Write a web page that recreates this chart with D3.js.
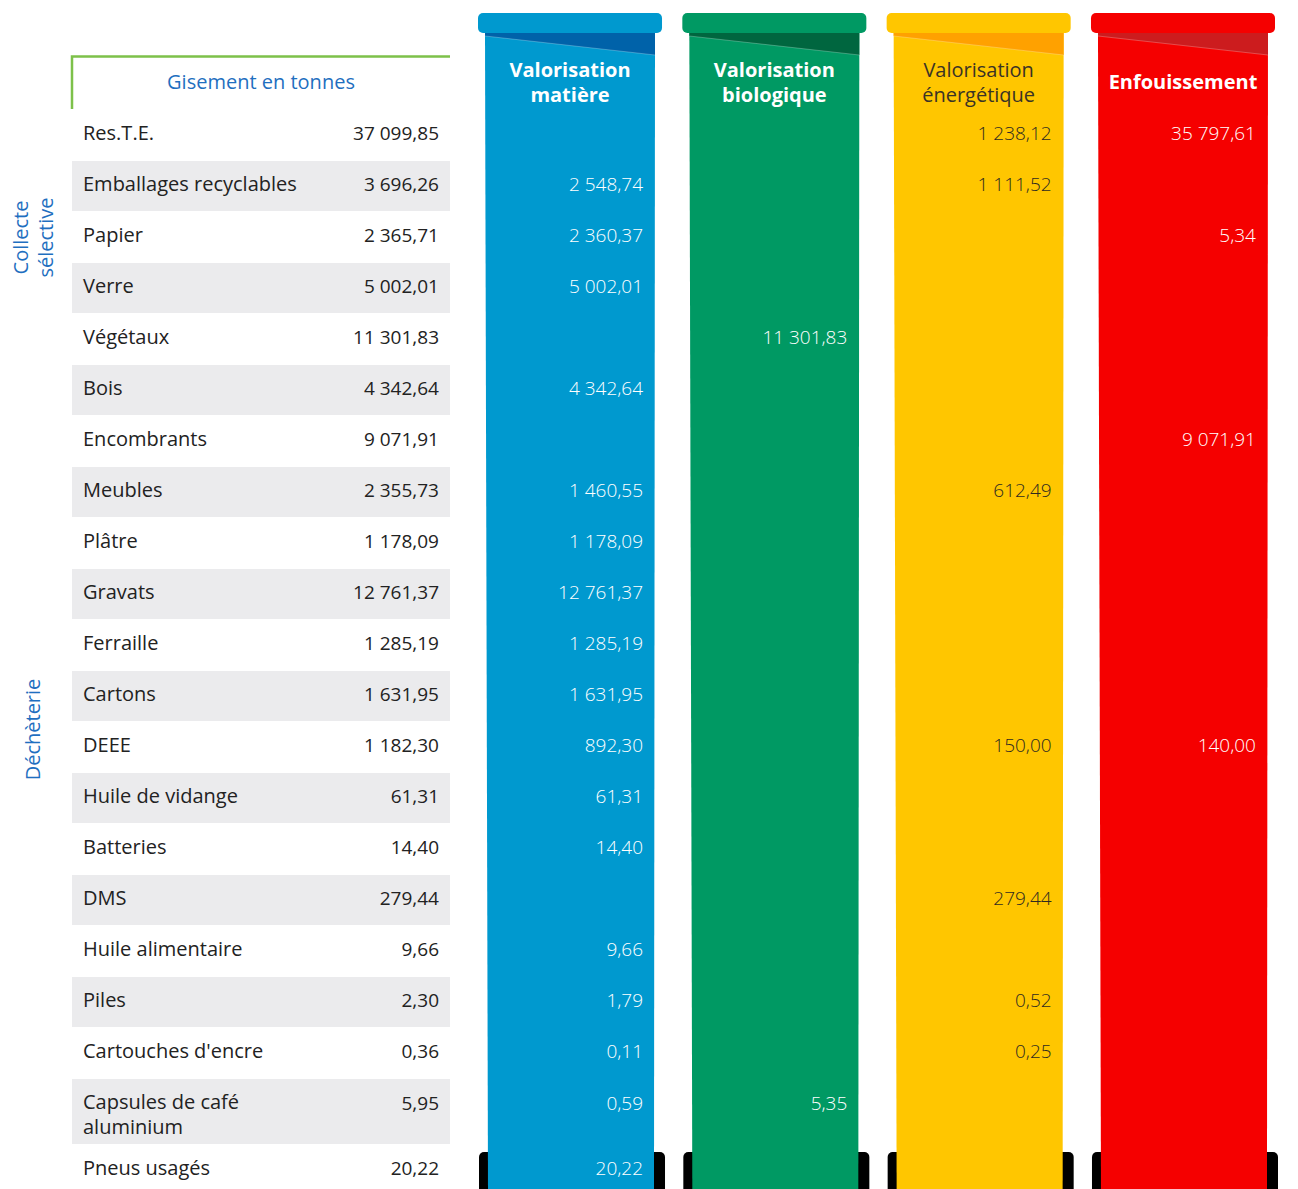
<!DOCTYPE html>
<html><head><meta charset="utf-8">
<script src="https://cdn.jsdelivr.net/npm/d3@7"></script>
<style>
body{margin:0;background:#fff}
svg{display:block;font-family:"Open Sans",Lato,sans-serif}
</style>
</head><body>
<svg id="c" width="1298" height="1189"></svg>
<script>
// ---------- DATA ----------
const categories = ["Res.T.E.", "Emballages recyclables", "Papier", "Verre", "Végétaux", "Bois",
  "Encombrants", "Meubles", "Plâtre", "Gravats", "Ferraille", "Cartons", "DEEE",
  "Huile de vidange", "Batteries", "DMS", "Huile alimentaire", "Piles",
  "Cartouches d'encre", "Capsules de café aluminium", "Pneus usagés"];
const gisement = [37099.85, 3696.26, 2365.71, 5002.01, 11301.83, 4342.64, 9071.91, 2355.73,
  1178.09, 12761.37, 1285.19, 1631.95, 1182.30, 61.31, 14.40, 279.44, 9.66, 2.30, 0.36, 5.95, 20.22];
const streams = ["Valorisation matière", "Valorisation biologique", "Valorisation énergétique", "Enfouissement"];
const matiere = [null, 2548.74, 2360.37, 5002.01, null, 4342.64, null, 1460.55, 1178.09, 12761.37,
  1285.19, 1631.95, 892.30, 61.31, 14.40, null, 9.66, 1.79, 0.11, 0.59, 20.22];
const biologique = [null, null, null, null, 11301.83, null, null, null, null, null, null, null, null,
  null, null, null, null, null, null, 5.35, null];
const energetique = [1238.12, 1111.52, null, null, null, null, null, 612.49, null, null, null, null,
  150.00, null, null, 279.44, null, 0.52, 0.25, null, null];
const enfouissement = [35797.61, null, 5.34, null, null, null, 9071.91, null, null, null, null, null,
  140.00, null, null, null, null, null, null, null, null];
const groupNames = ["Collecte sélective", "Déchèterie"];
const groupFirst = ["Emballages recyclables", "Végétaux"];
const groupLast = ["Verre", "Capsules de café aluminium"];
const tableTitle = "Gisement en tonnes";

// ---------- STYLE ----------
const binFill = ["#0099cf", "#009963", "#ffc600", "#f50000"];
const binDark = ["#0062a9", "#00663f", "#ffa100", "#cc1c1e"];
const headInk = ["#ffffff", "#ffffff", "#3a3326", "#ffffff"];
const headWeight = [700, 700, 400, 700];
const valInk = ["#ffffff", "#ffffff", "#2e2a20", "#ffffff"];
const streamValues = [matiere, biologique, energetique, enfouissement];

const fr = d3.formatLocale({decimal: ",", thousands: "\u00a0", grouping: [3], currency: ["", "€"]});
const fmt = fr.format(",.2f");

const svg = d3.select("#c");
const W = 1298, H = 1189;
const FS = 19, FL = 20;

// ---------- ROW LAYOUT (wrap labels, cumulative heights) ----------
const measure = svg.append("text").attr("font-size", FL).attr("visibility", "hidden");
function wrap(label, maxW) {
  const words = label.split(" "); const lines = []; let cur = "";
  for (const w of words) {
    const t = cur ? cur + " " + w : w;
    measure.text(t);
    if (measure.node().getComputedTextLength() > maxW && cur) { lines.push(cur); cur = w; }
    else cur = t;
  }
  lines.push(cur); return lines;
}
measure.text("Emballages recyclables");
const maxLabelW = measure.node().getComputedTextLength() + 12;
const labelLines = categories.map(c => wrap(c, maxLabelW));
measure.remove();
const rowStep = 51, extraLine = 15, tableTop = 110;
const tops = []; let acc = tableTop;
labelLines.forEach(l => { tops.push(acc); acc += rowStep + extraLine * (l.length - 1); });
const heights = labelLines.map(l => rowStep + extraLine * (l.length - 1));
const yTop = d3.scaleOrdinal(categories, tops);
const yH = d3.scaleOrdinal(categories, heights);
const multi = c => labelLines[categories.indexOf(c)].length > 1;

// ---------- BINS ----------
const x = d3.scaleBand().domain(streams).range([478, 1275]).paddingInner(0.0994).paddingOuter(0);
const bw = x.bandwidth();

const bins = svg.append("g").attr("class", "bins");
streams.forEach((s, k) => {
  const g = bins.append("g");
  const x0 = x(s);
  g.append("rect").attr("x", x0 + 1).attr("y", 1152).attr("width", bw + 2).attr("height", 60)
    .attr("rx", 5).attr("fill", "#000");
  const bodyTop = 33;
  const lt = x0 + 7, rt = x0 + 177, lb = x0 + 10, rb = x0 + 176;
  g.append("path").attr("d", `M${lt},${bodyTop} L${rt},${bodyTop} L${rb},${H + 2} L${lb},${H + 2} Z`)
    .attr("fill", binFill[k]);
  g.append("path").attr("d", `M${lt},${bodyTop} L${rt},${bodyTop} L${rt},${bodyTop + 22} L${lt},${bodyTop + 3} Z`)
    .attr("fill", binDark[k]);
  g.append("line").attr("x1", lt).attr("y1", bodyTop + 3).attr("x2", rt).attr("y2", bodyTop + 22)
    .attr("stroke", "#fff").attr("stroke-opacity", 0.25).attr("stroke-width", 1);
  g.append("rect").attr("x", x0).attr("y", 13).attr("width", bw).attr("height", 20)
    .attr("rx", 5).attr("fill", binFill[k]);
  const words = s.split(" ");
  const ht = g.append("text").attr("text-anchor", "middle").attr("fill", headInk[k])
    .attr("font-size", 20).attr("font-weight", headWeight[k]);
  if (words.length === 1) {
    ht.append("tspan").attr("x", x0 + bw / 2).attr("y", 89).text(words[0]);
  } else {
    ht.append("tspan").attr("x", x0 + bw / 2).attr("y", 77).text(words[0]);
    ht.append("tspan").attr("x", x0 + bw / 2).attr("y", 102).text(words.slice(1).join(" "));
  }
  g.append("g").selectAll("text")
    .data(categories.map((c, i) => ({c, v: streamValues[k][i]})).filter(d => d.v != null))
    .join("text")
    .attr("x", x0 + 165)
    .attr("y", d => yTop(d.c) + (multi(d.c) ? 31 : 30))
    .attr("text-anchor", "end").attr("font-size", FS).attr("font-weight", 300)
    .attr("fill", valInk[k]).text(d => fmt(d.v));
});

// ---------- TABLE ----------
const tbl = svg.append("g").attr("class", "table");
const tableX0 = 72, tableX1 = 450;
tbl.selectAll("rect.band").data(categories.filter((c, i) => i % 2 === 1)).join("rect")
  .attr("class", "band").attr("x", tableX0).attr("y", d => yTop(d))
  .attr("width", tableX1 - tableX0).attr("height", d => yH(d) - 1).attr("fill", "#ebebed");

const rows = tbl.selectAll("g.row").data(categories).join("g").attr("class", "row");
rows.append("text").attr("font-size", FL).attr("fill", "#222")
  .each(function(d, i) {
    const t = d3.select(this);
    labelLines[i].forEach((l, j) => t.append("tspan").attr("x", 83).attr("y", yTop(d) + 30 + j * 25).text(l));
  });
rows.append("text").attr("x", 439).attr("y", d => yTop(d) + (multi(d) ? 31 : 30))
  .attr("text-anchor", "end").attr("font-size", FS).attr("fill", "#222")
  .text((d, i) => fmt(gisement[i]));

tbl.append("path").attr("d", `M${tableX0},109 L${tableX0},56.5 L${tableX1},56.5`)
  .attr("fill", "none").attr("stroke", "#7dc14a").attr("stroke-width", 2.5);
tbl.append("text").attr("x", 261).attr("y", 89).attr("text-anchor", "middle")
  .attr("font-size", FL).attr("fill", "#1f6fc0").text(tableTitle);

groupNames.forEach((gname, k) => {
  const y0 = yTop(groupFirst[k]), y1 = yTop(groupLast[k]) + yH(groupLast[k]);
  const cy = (y0 + y1) / 2;
  const words = gname.split(" ");
  const t = svg.append("text").attr("transform", `translate(33,${cy}) rotate(-90)`)
    .attr("text-anchor", "middle").attr("font-size", FL).attr("fill", "#1f6fc0");
  if (words.length === 1) t.append("tspan").attr("x", 0).attr("y", 7).text(words[0]);
  else words.forEach((w, j) => t.append("tspan").attr("x", 0).attr("y", -5 + j * 25).text(w));
});
</script>
</body></html>
